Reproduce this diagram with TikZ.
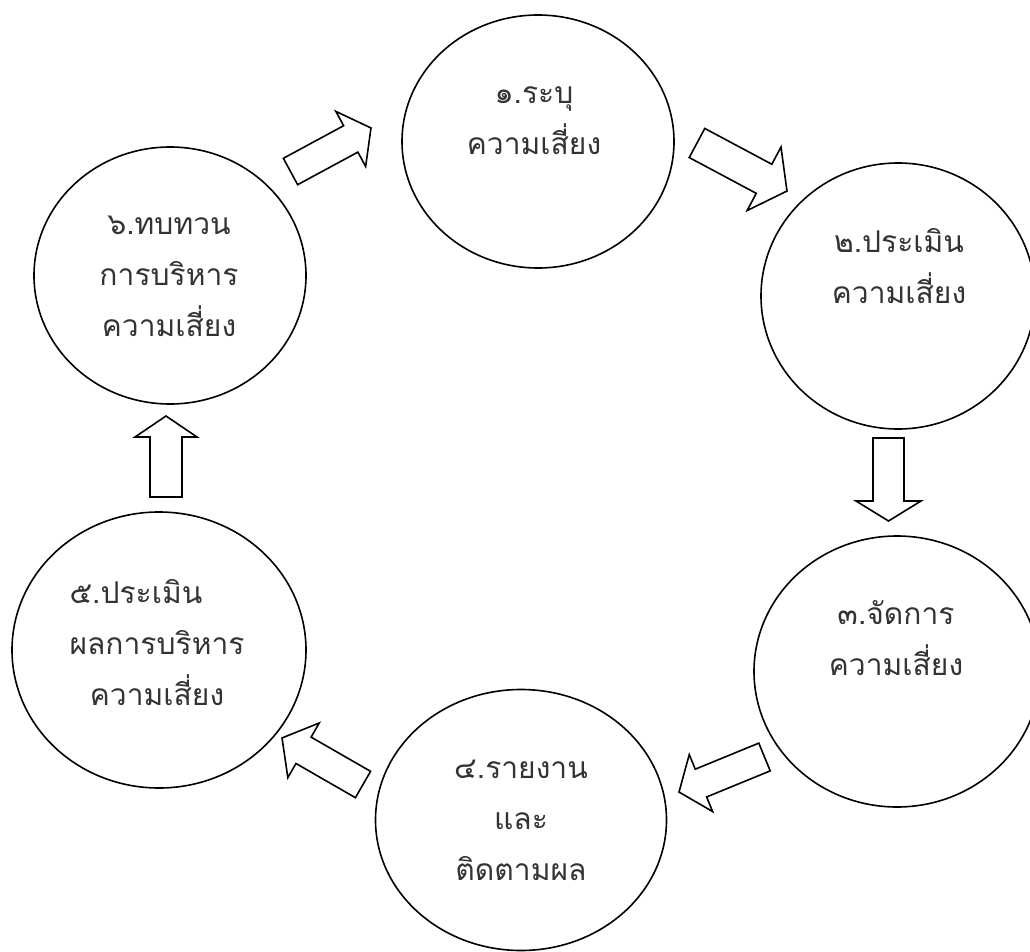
\documentclass[tikz,border=0pt]{standalone}
\usepackage{fontspec}
\newfontfamily\thaifont[Script=Thai]{Loma}
\usetikzlibrary{shapes.geometric}
\newcommand\tstrut{\rule[-0.35em]{0pt}{0.85em}}
\tikzset{
  stage/.style={ellipse, draw=black, line width=1.6pt, inner sep=0pt, fill=none},
  stagetext/.style={align=center, inner sep=0pt, font=\thaifont\fontsize{30}{51}\selectfont, text=black!80},
  arrowline/.style={draw=black, line width=1.6pt, line join=miter, fill=white},
  pics/barrow/.style n args={4}{code={
    \draw[arrowline] (0,-#2) -- (#1-#4,-#2) -- (#1-#4,-#3) -- (#1,0) -- (#1-#4,#3) -- (#1-#4,#2) -- (0,#2) -- cycle;
  }}
}
\begin{document}
\begin{tikzpicture}[x=1pt,y=1pt]
\useasboundingbox (0,0) rectangle (1030,-952);
\clip (0,0) rectangle (1030,-952);
% circles
\node[stage, minimum width=272pt, minimum height=253pt] (c1) at (538,-141.5) {};
\node[stage, minimum width=274pt, minimum height=266pt] (c2) at (898,-296) {};
\node[stage, minimum width=286pt, minimum height=271pt] (c3) at (897,-671.5) {};
\node[stage, minimum width=291pt, minimum height=261pt] (c4) at (521,-820) {};
\node[stage, minimum width=294pt, minimum height=276pt] (c5) at (159,-650) {};
\node[stage, minimum width=272pt, minimum height=257pt] (c6) at (170,-275.5) {};
% texts
\node[stagetext] (t1) at (534,-125.5) {\tstrut ๑.ระบุ\\\tstrut ความเสี่ยง};
\node[stagetext] (t2) at (899,-271) {\tstrut ๒.ประเมิน\\\tstrut ความเสี่ยง};
\node[stagetext] (t3) at (896,-643.5) {\tstrut ๓.จัดการ\\\tstrut ความเสี่ยง};
\node[stagetext] (t4) at (521,-825) {\tstrut ๔.รายงาน\\\tstrut และ\\\tstrut ติดตามผล};
\node[stagetext] (t5) at (157,-648) {\tstrut\makebox[0pt][l]{๕.ประเมิน}\phantom{ผลการบริหาร}\\\tstrut ผลการบริหาร\\\tstrut ความเสี่ยง};
\node[stagetext] (t6) at (169,-282) {\tstrut ๖.ทบทวน\\\tstrut การบริหาร\\\tstrut ความเสี่ยง};
% block arrows
\pic[rotate=28.4] (a61) at (290.5,-171.5) {barrow={91.5}{15}{31.3}{23}};
\pic[rotate=-28.1] (a12) at (697,-143) {barrow={102}{16.5}{36}{26}};
\pic[rotate=-90] (a23) at (888.5,-438) {barrow={83}{15.5}{32.5}{20}};
\pic[rotate=202.3] (a34) at (764.5,-757) {barrow={92.4}{15}{30.8}{23.7}};
\pic[rotate=150.1] (a45) at (363,-784.5) {barrow={93.4}{15.2}{31.5}{24.8}};
\pic[rotate=90] (a56) at (166,-497) {barrow={81}{16}{31}{21}};
\end{tikzpicture}
\end{document}
